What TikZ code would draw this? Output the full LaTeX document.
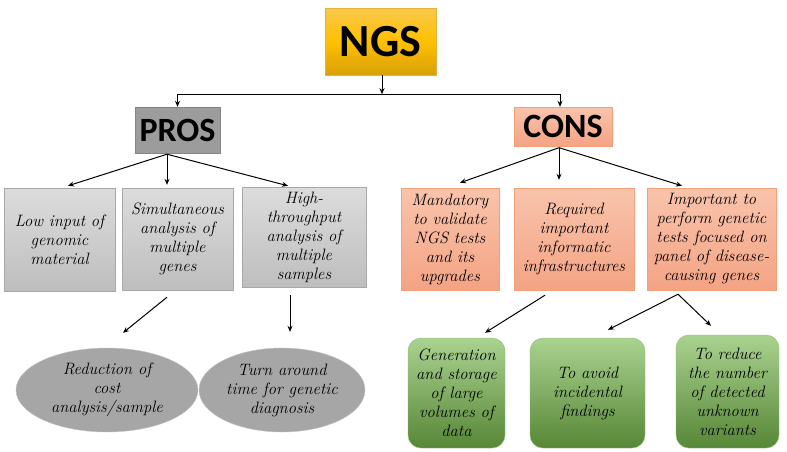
\documentclass[tikz,border=0pt]{standalone}
\usepackage{fontspec}
\newfontfamily\hdrfont{Carlito}
\usetikzlibrary{arrows.meta,shapes.geometric,calc}
\definecolor{ngstop}{HTML}{F9C84C}
\definecolor{ngsmid}{HTML}{FFC000}
\definecolor{ngsbot}{HTML}{D9A00A}
\definecolor{grtop}{HTML}{DCDCDC}
\definecolor{grbot}{HTML}{BEBEBE}
\definecolor{grline}{HTML}{A8A8A8}
\definecolor{prosfill}{HTML}{9C9C9C}
\definecolor{prosline}{HTML}{858585}
\definecolor{ortop}{HTML}{F9C4AC}
\definecolor{orbot}{HTML}{F4A384}
\definecolor{orline}{HTML}{F2A07A}
\definecolor{gntop}{HTML}{AAD290}
\definecolor{gnbot}{HTML}{578737}
\definecolor{gnline}{HTML}{8DBB70}
\definecolor{elfill}{HTML}{A6A6A6}
\definecolor{elline}{HTML}{C4C4C4}
\begin{document}
\begin{tikzpicture}[x=1pt,y=-1pt,
  txt/.style={font=\fontsize{16.5}{19}\selectfont\itshape, align=center, inner sep=0pt, text=black},
  hdr/.style={font=\hdrfont\bfseries, inner sep=0pt, text=black},
  ngsbox/.style={hdr, font=\hdrfont\bfseries\fontsize{46}{46}\selectfont, draw=ngsbot!80, top color=ngstop, bottom color=ngsbot, middle color=ngsmid},
  prosbox/.style={hdr, font=\hdrfont\bfseries\fontsize{34}{34}\selectfont, draw=prosline, fill=prosfill},
  consbox/.style={hdr, font=\hdrfont\bfseries\fontsize{34}{34}\selectfont, draw=orline, top color=ortop, bottom color=orbot},
  graybox/.style={txt, draw=grline, top color=grtop, bottom color=grbot},
  orbox/.style={txt, draw=orline, top color=ortop, bottom color=orbot},
  gnbox/.style={txt, draw=gnline, top color=gntop, bottom color=gnbot, rounded corners=13pt},
  elbox/.style={txt, ellipse, draw=elline, fill=elfill},
  arr/.style={-{Stealth[length=6pt,width=5pt]}, line width=1pt, draw=black},
  ln/.style={line width=1pt, draw=black}
]
\useasboundingbox (0,0) rectangle (787,451);

% top level
\node[ngsbox, minimum width=111, minimum height=67] (ngs) at (380.5,41.5) {NGS};
\node[prosbox, minimum width=85, minimum height=46] (pros) at (177.5,130) {PROS};
\node[consbox, minimum width=98, minimum height=39] (cons) at (563,126.5) {CONS};

\coordinate (bar) at ($(ngs.south)+(1.5,19)$);
\coordinate (barL) at (bar -| pros.north);
\coordinate (barR) at ($(bar -| cons.north)+(-3,0)$);
\draw[arr] (ngs.south -| bar) -- (bar);
\draw[ln] (barL) -- (barR);
\draw[arr] (barL) -- (barL |- pros.north);
\draw[arr] (barR) -- (barR |- cons.north);

% PROS children
\node[graybox, minimum width=111, minimum height=103] (g1) at (59.5,239.5) {Low input of\\genomic\\material};
\node[graybox, minimum width=111, minimum height=102] (g2) at (177.5,239) {Simultaneous\\analysis of\\multiple\\genes};
\node[graybox, minimum width=124, minimum height=100] (g3) at (304,237) {High-\\throughput\\analysis of\\multiple\\samples};

\coordinate (pf) at ($(pros.south)+(-10.5,1)$);
\draw[arr] (pf) -- ($(g1.north)+(8.5,-2)$);
\draw[arr] (pf) -- ($(g2.north)+(-10.5,-3)$);
\draw[arr] (pf) -- ($(g3.north)+(-16,-1)$);

% CONS children
\node[orbox, minimum width=98, minimum height=102] (o1) at (450,239) {Mandatory\\to validate\\NGS tests\\and its\\upgrades};
\node[orbox, minimum width=120, minimum height=102] (o2) at (574,239) {Required\\important\\informatic\\infrastructures};
\node[orbox, minimum width=129, minimum height=102] (o3) at (711.5,239) {Important to\\perform genetic\\tests focused on\\panel of disease-\\causing genes};

\coordinate (cf) at ($(cons.south)+(-4,1.5)$);
\draw[arr] (cf) -- ($(o1.north)+(10,-5)$);
\draw[arr] (cf) -- ($(o2.north)+(-15,-8)$);
\draw[arr] (cf) -- ($(o3.north)+(-29.5,-2)$);

% PROS outcomes
\node[elbox, minimum width=182, minimum height=84] (e1) at (107,390) {Reduction of\\cost\\analysis/sample};
\node[elbox, minimum width=166, minimum height=84] (e2) at (282,390) {Turn around\\time for genetic\\diagnosis};

\draw[arr] ($(g2.south)+(-10.5,7)$) -- ($(e1.north)+(16,-15)$);
\draw[arr] ($(g3.south)+(-14,8)$) -- ($(e2.north)+(8,-16)$);

% CONS outcomes
\node[gnbox, minimum width=97, minimum height=110] (n1) at (456.5,393) {Generation\\and storage\\of large\\volumes of\\data};
\node[gnbox, minimum width=115, minimum height=110] (n2) at (587.5,393) {To avoid\\incidental\\findings};
\node[gnbox, minimum width=103, minimum height=113] (n3) at (727.5,391.5) {To reduce\\the number\\of detected\\unknown\\variants};

\draw[arr] ($(o2.south)+(-29,5)$) -- ($(n1.north)+(28.5,-5)$);
\coordinate (nf) at ($(o3.south)+(-33.5,4)$);
\draw[arr] (nf) -- ($(n2.north)+(20.5,-8)$);
\draw[arr] (nf) -- ($(n3.north)+(-16.5,-9)$);
\end{tikzpicture}
\end{document}
